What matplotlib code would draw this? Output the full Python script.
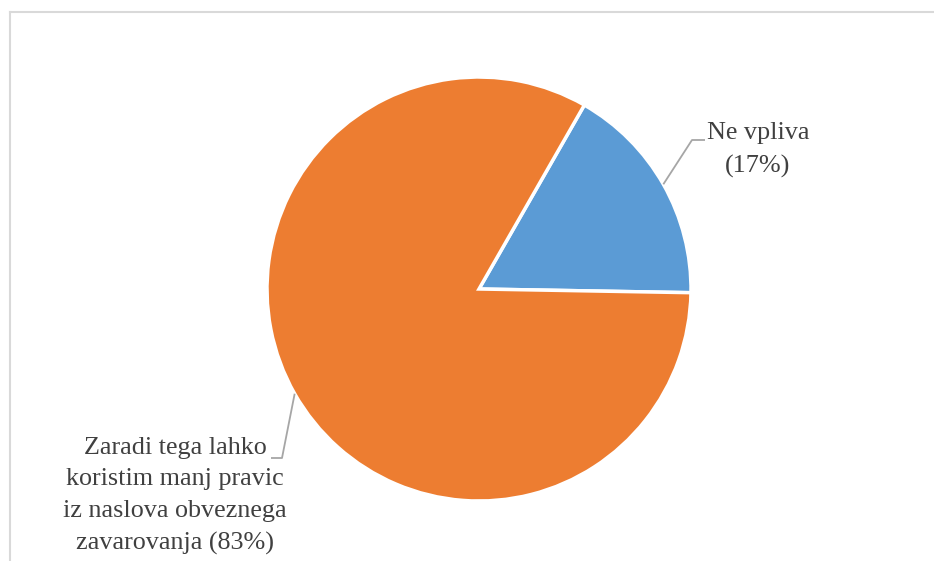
import numpy as np
import matplotlib.pyplot as plt
from matplotlib.lines import Line2D

# survey answers, share of respondents in percent
categories = ['Ne vpliva',
              'Zaradi tega lahko\nkoristim manj pravic\niz naslova obveznega\nzavarovanja']
shares = [17, 83]
colors = ['#5b9bd5', '#ed7d31']

W, H = 934, 561
fig = plt.figure(figsize=(W / 100, H / 100), dpi=100)
ax = fig.add_axes([0, 0, 1, 1])

# pie in pixel-like data units (y measured upwards)
cx, cy, r = 479, H - 289, 212
start = 60.2
wedges, _ = ax.pie(shares, colors=colors, startangle=start, counterclock=False,
                   center=(cx, cy), radius=r, frame=True,
                   wedgeprops=dict(edgecolor='white', linewidth=2.5))
ax.set_xlim(0, W)
ax.set_ylim(0, H)
ax.set_aspect('equal')
ax.axis('off')

# label anchors: elbow of the leader line, end of its short tail, text centre
elbows = [(692, H - 140), (282, H - 458)]
tails = [(705, H - 140), (271, H - 458)]
text_pos = [(758, H - 150), (175, H - 496)]

for w, share, cat, elbow, tail, tp in zip(wedges, shares, categories,
                                          elbows, tails, text_pos):
    mid = np.deg2rad((w.theta1 + w.theta2) / 2)
    px, py = cx + r * np.cos(mid), cy + r * np.sin(mid)
    ax.plot([px, elbow[0], tail[0]], [py, elbow[1], tail[1]],
            color='#a6a6a6', lw=1.3, solid_capstyle='butt')
    ax.text(tp[0], tp[1], f'{cat} ({share}%)' if '\n' in cat else f'{cat}\n({share}%)',
            ha='center', va='center', multialignment='center',
            fontsize=18.8, family='Liberation Serif', color='#404040',
            linespacing=1.57)

# thin chart-area border (left and top edges visible)
fig.add_artist(Line2D([9.5 / W, 9.5 / W], [0, 1 - 11.5 / H],
                      transform=fig.transFigure, color='#d9d9d9', lw=1.5))
fig.add_artist(Line2D([9.5 / W, 1], [1 - 11.5 / H, 1 - 11.5 / H],
                      transform=fig.transFigure, color='#d9d9d9', lw=1.5))

fig.savefig('out.png', dpi=100)
